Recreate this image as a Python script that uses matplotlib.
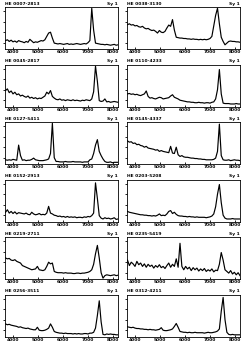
import numpy as np
import matplotlib
matplotlib.use("Agg")
import matplotlib.pyplot as plt

# wavelength grid (Angstrom) shared by all spectra
wave = np.arange(3700, 8201, 75)

names = ["HE 0007-2813", "HE 0038-3130", "HE 0045-2817", "HE 0110-4233",
         "HE 0127-5411", "HE 0145-4337", "HE 0152-2913", "HE 0203-5208",
         "HE 0219-2711", "HE 0235-5419", "HE 0256-3511", "HE 0312-4211"]
types = ["Sy 1"] * 12

# relative flux, one list per panel
flux1 = [20,22,18,21,17,19,16,20,18,17, 15,18,16,23,19,15,17,16,18,20,
         19,22,30,38,40,26,14,13,12,13, 12,11,12,13,11,12,11,12,13,12,
         11,12,13,12,15,20,97,45,14,13, 12,11,11,10,11,10,9,10,11,9, 10]
flux2 = [58,60,57,58,55,56,53,52,54,50, 48,49,46,44,45,42,38,44,40,39,
         42,50,57,54,70,45,28,27,26,26, 25,25,24,24,23,24,23,23,22,23,
         22,23,22,23,25,30,55,80,97,60, 28,18,10,14,18,19,18,18,17,17, 16]
flux3 = [38,42,33,37,30,34,28,30,25,27, 24,22,25,20,22,19,21,18,20,19,
         22,25,34,30,38,24,20,17,16,18, 15,16,14,16,15,14,16,14,15,14,
         13,15,14,16,15,14,18,35,96,60, 14,12,13,18,11,12,10,11,12,11, 10]
flux4 = [30,31,29,30,28,29,27,26,28,30, 37,24,20,21,19,18,20,22,21,18,
         19,20,21,25,28,22,20,18,15,14, 13,12,11,11,10,10,9,9,10,9,
         9,8,9,9,8,10,11,18,40,88, 30,8,7,7,7,6,6,6,7,6, 6]
flux5 = [10,9,10,9,11,10,9,45,20,9, 10,8,9,9,11,14,10,9,8,8,
         8,9,10,12,25,97,15,6,6,5, 5,5,6,5,5,5,6,5,5,5,
         5,4,5,5,5,10,12,25,45,58, 30,20,12,6,4,4,5,3,4,4, 4]
flux6 = [55,52,53,49,50,46,47,44,43,40, 42,38,37,36,35,33,34,30,32,30,
         29,28,27,42,26,25,40,22,18,20, 17,16,16,15,14,14,13,13,12,12,
         11,11,10,10,10,10,11,14,30,95, 20,10,9,9,10,8,9,10,9,9, 8]
flux7 = [22,28,20,24,19,23,18,21,20,19, 18,20,17,16,22,18,16,17,19,16,
         17,16,20,36,20,18,15,14,12,13, 11,12,10,12,10,11,10,11,9,10,
         10,9,11,10,12,11,14,20,92,55, 14,8,6,9,7,8,6,7,9,5, 6]
flux8 = [24,22,21,20,19,18,17,16,16,15, 15,14,14,13,14,13,15,18,14,15,
         14,18,24,26,19,22,17,14,13,13, 12,12,11,12,11,11,10,11,10,10,
         10,10,9,10,11,13,18,35,65,88, 45,15,8,6,6,6,7,6,6,6, 6]
flux9 = [50,48,49,45,44,46,42,40,38,32, 30,28,26,24,22,23,24,30,22,21,
         20,22,30,40,36,38,18,16,15,15, 15,14,15,14,14,14,13,13,14,14,
         13,14,14,15,16,18,22,35,60,80, 50,15,2,8,10,9,8,9,10,8, 9]
flux10 = [45,32,40,36,30,42,34,38,30,36, 28,35,30,33,26,32,28,34,27,30,
          25,32,38,28,35,30,48,28,85,30, 22,30,24,28,20,27,22,26,19,24,
          20,25,18,22,19,24,17,21,20,35, 63,45,22,18,14,20,12,16,10,15, 8]
flux11 = [30,28,29,27,26,25,24,22,23,21, 20,19,20,18,17,16,16,22,15,14,
          14,15,17,20,30,22,12,10,9,8, 8,7,8,7,7,7,6,7,6,7,
          6,6,7,7,6,8,8,10,20,50, 85,35,5,4,6,5,6,5,5,4, 4]
flux12 = [23,22,21,22,20,19,19,18,18,17, 17,16,17,16,16,15,16,17,21,15,
          14,14,15,16,18,24,31,22,12,11, 10,10,9,10,9,9,10,9,9,9,
          9,8,9,10,9,9,10,11,13,18, 60,93,40,10,5,4,5,4,4,4, 4]

spectra = [flux1, flux2, flux3, flux4, flux5, flux6,
           flux7, flux8, flux9, flux10, flux11, flux12]
xticks = [4000, 5000, 6000, 7000, 8000]

W, H = 245, 350
fig = plt.figure(figsize=(W / 100, H / 100), dpi=100)

for i, flux in enumerate(spectra):
    row, col = i // 2, i % 2
    left = 5 if col == 0 else 127
    top = 7 + 57.5 * row
    ax = fig.add_axes([left / W, 1 - (top + 42) / H, 113 / W, 42 / H])
    ax.plot(wave, flux, color="black", lw=0.85)
    ax.set_xlim(3680, 8200)
    ax.set_ylim(0, 100)
    ax.set_xticks(xticks)
    ax.set_xticklabels([str(t) for t in xticks], fontsize=3.2, fontweight="bold")
    ax.set_yticks([15, 40, 65, 90])
    ax.set_yticklabels([])
    ax.tick_params(axis="x", direction="in", length=1.5, width=0.6, pad=1)
    ax.tick_params(axis="y", direction="out", length=1.5, width=0.6)
    for s in ax.spines.values():
        s.set_linewidth(0.6)
    ax.text(0.0, 1.03, names[i], transform=ax.transAxes, fontsize=3.2,
            fontweight="bold", ha="left", va="bottom")
    ax.text(1.0, 1.03, types[i], transform=ax.transAxes, fontsize=3.2,
            fontweight="bold", ha="right", va="bottom")

fig.savefig("out.png", dpi=100)
